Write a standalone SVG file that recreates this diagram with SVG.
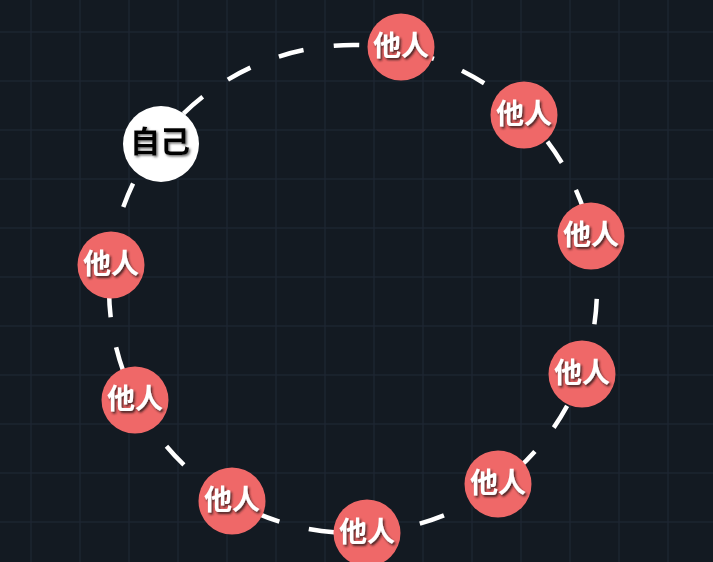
<svg xmlns="http://www.w3.org/2000/svg" width="713" height="562" viewBox="0 0 713 562">
<defs>
<style>
.bg{fill:#131a22}
.grid{fill:none;stroke:#1d2631;stroke-width:1.5}
.ring{fill:none;stroke:#ffffff;stroke-width:4.5;stroke-dasharray:25.5 30.5}
.other circle{fill:#ef6868}
.other text{font-family:"Noto Sans CJK SC","Noto Sans",sans-serif;font-weight:700;font-size:28px;fill:#ffffff;text-anchor:middle;filter:url(#shadowDark)}
.self circle{fill:#ffffff}
.self text{font-family:"Noto Sans CJK SC","Noto Sans",sans-serif;font-weight:700;font-size:30px;fill:#000000;text-anchor:middle;filter:url(#shadowSoft)}
</style>
<filter id="shadowDark" x="-20%" y="-30%" width="150%" height="170%">
<feDropShadow dx="1.6" dy="2" stdDeviation="0.8" flood-color="#2a1515" flood-opacity="0.85"/>
</filter>
<filter id="shadowSoft" x="-20%" y="-30%" width="150%" height="170%">
<feDropShadow dx="1.5" dy="1.5" stdDeviation="1.2" flood-color="#555555" flood-opacity="0.9"/>
</filter>
</defs>
<rect class="bg" x="0" y="0" width="713" height="562"/>
<path class="grid" d="M31 0V562M80 0V562M129 0V562M178 0V562M227 0V562M276 0V562M325 0V562M374 0V562M423 0V562M472 0V562M521 0V562M570 0V562M619 0V562M668 0V562M0 32H713M0 81H713M0 130H713M0 179H713M0 228H713M0 277H713M0 326H713M0 375H713M0 424H713M0 473H713M0 522H713"/>
<g id="connectors">
<path class="ring" d="M409.5,51.6 A244,244 0 0 1 296.5,526.4 A244,244 0 0 1 409.5,51.6"/>
</g>
<g id="self" class="self"><circle cx="161" cy="144" r="38"/><text x="160" y="152">自己</text></g>
<g id="other1" class="other"><circle cx="401" cy="47" r="33.5"/><text x="401" y="56">他人</text></g>
<g id="other2" class="other"><circle cx="524" cy="115" r="33.5"/><text x="524" y="124">他人</text></g>
<g id="other3" class="other"><circle cx="591" cy="236" r="33.5"/><text x="591" y="245">他人</text></g>
<g id="other4" class="other"><circle cx="582" cy="374" r="33.5"/><text x="582" y="383">他人</text></g>
<g id="other5" class="other"><circle cx="498" cy="484" r="33.5"/><text x="498" y="493">他人</text></g>
<g id="other6" class="other"><circle cx="367" cy="533" r="33.5"/><text x="367" y="542">他人</text></g>
<g id="other7" class="other"><circle cx="232" cy="501" r="33.5"/><text x="232" y="510">他人</text></g>
<g id="other8" class="other"><circle cx="135" cy="400" r="33.5"/><text x="135" y="409">他人</text></g>
<g id="other9" class="other"><circle cx="111" cy="265" r="33.5"/><text x="111" y="274">他人</text></g>
</svg>
